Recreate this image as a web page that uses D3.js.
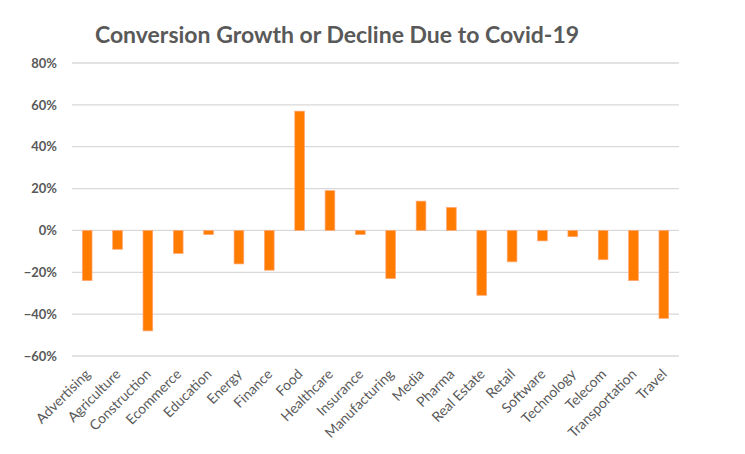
<!DOCTYPE html>
<html>
<head>
<meta charset="utf-8">
<script src="https://cdn.jsdelivr.net/npm/d3@7"></script>
<style>
  body { margin: 0; background: #fff; }
  text { font-family: Lato, "Open Sans", sans-serif; fill: #595959; }
</style>
</head>
<body>
<svg></svg>
<script>
// data
const categories = ["Advertising", "Agriculture", "Construction", "Ecommerce", "Education",
  "Energy", "Finance", "Food", "Healthcare", "Insurance", "Manufacturing", "Media",
  "Pharma", "Real Estate", "Retail", "Software", "Technology", "Telecom",
  "Transportation", "Travel"];
const values = [-0.24, -0.09, -0.48, -0.11, -0.02, -0.16, -0.19, 0.57, 0.19, -0.02,
  -0.23, 0.14, 0.11, -0.31, -0.15, -0.05, -0.03, -0.14, -0.24, -0.42];
const yTicks = [-0.6, -0.4, -0.2, 0, 0.2, 0.4, 0.6, 0.8];

const width = 745;
const height = 454;
const margin = {top: 63, right: 66, bottom: 98, left: 72};

const svg = d3.select("svg")
  .attr("width", width)
  .attr("height", height);

const x = d3.scaleBand()
  .domain(categories)
  .range([margin.left, width - margin.right])
  .paddingInner(0.68)
  .paddingOuter(0.34);

const y = d3.scaleLinear()
  .domain([-0.6, 0.8])
  .range([height - margin.bottom, margin.top]);

// gridlines
svg.append("g")
  .selectAll("line")
  .data(yTicks)
  .enter()
  .append("line")
  .attr("x1", margin.left)
  .attr("x2", width - margin.right)
  .attr("y1", d => y(d))
  .attr("y2", d => y(d))
  .attr("stroke", "#d9d9d9")
  .attr("stroke-width", 1.3);

// y axis labels
const yAxis = svg.append("g")
  .attr("transform", `translate(${margin.left - 15},0)`)
  .call(d3.axisLeft(y).tickValues(yTicks).tickFormat(d3.format(".0%")).tickSize(0).tickPadding(0));
yAxis.select(".domain").remove();
yAxis.selectAll("text")
  .style("font-family", "Lato, sans-serif")
  .style("font-size", "13px")
  .style("font-weight", "bold")
  .attr("fill", "#595959");

// bars
svg.append("g")
  .selectAll("rect")
  .data(values)
  .enter()
  .append("rect")
  .attr("x", (d, i) => x(categories[i]))
  .attr("width", x.bandwidth())
  .attr("y", d => y(Math.max(0, d)))
  .attr("height", d => Math.abs(y(d) - y(0)))
  .attr("fill", "#ff7c00")
  .attr("stroke", "#ffa77a")
  .attr("stroke-width", 0.7);

// x axis labels, rotated so each ends just right of its bar
const xAxis = svg.append("g")
  .attr("transform", `translate(0,375)`)
  .call(d3.axisBottom(x).tickSize(0).tickPadding(0));
xAxis.select(".domain").remove();
xAxis.selectAll("text")
  .style("font-family", "Lato, sans-serif")
  .style("font-size", "14px")
  .attr("fill", "#595959")
  .attr("text-anchor", "end")
  .attr("x", 0)
  .attr("y", 0)
  .attr("dy", 0)
  .attr("transform", "translate(4,0) rotate(-45)");

// title
svg.append("text")
  .attr("x", 337)
  .attr("y", 43)
  .attr("text-anchor", "middle")
  .style("font-size", "23px")
  .style("font-weight", "bold")
  .attr("fill", "#595959")
  .text("Conversion Growth or Decline Due to Covid-19");
</script>
</body>
</html>
